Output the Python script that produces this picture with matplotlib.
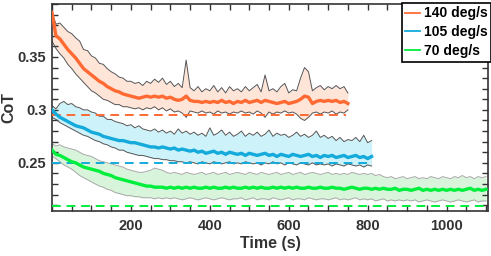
import matplotlib
matplotlib.use("Agg")
import matplotlib.pyplot as plt
import numpy as np
from matplotlib.lines import Line2D
from matplotlib.ticker import MultipleLocator

# ---------------- data ---------------- #
step = 10  # s between samples

labels = ["140 deg/s", "105 deg/s", "70 deg/s"]

cot_140_mean = [0.392, 0.370, 0.367, 0.362, 0.357, 0.353, 0.349, 0.344, 0.339, 0.336,
                0.333, 0.330, 0.327, 0.325, 0.322, 0.320, 0.318, 0.317, 0.315, 0.314,
                0.313, 0.312, 0.311, 0.312, 0.313, 0.312, 0.313, 0.312, 0.313, 0.311,
                0.312, 0.310, 0.309, 0.310, 0.313, 0.309, 0.308, 0.308, 0.307, 0.308,
                0.307, 0.308, 0.307, 0.309, 0.307, 0.308, 0.306, 0.308, 0.307, 0.309,
                0.307, 0.308, 0.309, 0.307, 0.309, 0.308, 0.307, 0.306, 0.307, 0.308,
                0.306, 0.307, 0.308, 0.310, 0.313, 0.312, 0.306, 0.308, 0.309, 0.308,
                0.309, 0.308, 0.309, 0.307, 0.308, 0.306]
cot_140_upper = [0.392, 0.381, 0.382, 0.378, 0.374, 0.372, 0.368, 0.365, 0.357, 0.356,
                 0.351, 0.349, 0.344, 0.343, 0.339, 0.336, 0.334, 0.331, 0.330, 0.327,
                 0.327, 0.325, 0.326, 0.323, 0.327, 0.325, 0.329, 0.326, 0.330, 0.324,
                 0.327, 0.322, 0.325, 0.321, 0.347, 0.321, 0.318, 0.322, 0.317, 0.320,
                 0.318, 0.323, 0.317, 0.321, 0.316, 0.322, 0.318, 0.320, 0.317, 0.322,
                 0.318, 0.321, 0.324, 0.317, 0.333, 0.318, 0.320, 0.317, 0.322, 0.325,
                 0.316, 0.319, 0.318, 0.330, 0.340, 0.336, 0.318, 0.321, 0.323, 0.319,
                 0.322, 0.320, 0.323, 0.320, 0.322, 0.316]
cot_140_lower = [0.365, 0.358, 0.353, 0.349, 0.343, 0.339, 0.334, 0.330, 0.326, 0.322,
                 0.318, 0.316, 0.313, 0.310, 0.309, 0.307, 0.305, 0.305, 0.303, 0.303,
                 0.302, 0.301, 0.302, 0.300, 0.302, 0.301, 0.303, 0.300, 0.302, 0.299,
                 0.301, 0.298, 0.299, 0.297, 0.293, 0.299, 0.298, 0.297, 0.299, 0.297,
                 0.298, 0.296, 0.299, 0.297, 0.298, 0.296, 0.298, 0.297, 0.299, 0.297,
                 0.298, 0.296, 0.299, 0.297, 0.293, 0.298, 0.296, 0.298, 0.297, 0.299,
                 0.297, 0.298, 0.296, 0.292, 0.290, 0.293, 0.297, 0.298, 0.296, 0.298,
                 0.297, 0.299, 0.296, 0.298, 0.297, 0.300]

cot_105_mean = [0.300, 0.296, 0.293, 0.291, 0.289, 0.287, 0.285, 0.284, 0.283, 0.281,
                0.279, 0.278, 0.277, 0.275, 0.274, 0.273, 0.272, 0.271, 0.271, 0.270,
                0.269, 0.269, 0.268, 0.267, 0.266, 0.265, 0.265, 0.264, 0.265, 0.264,
                0.263, 0.264, 0.262, 0.263, 0.262, 0.261, 0.262, 0.260, 0.261, 0.259,
                0.260, 0.261, 0.259, 0.260, 0.258, 0.260, 0.259, 0.258, 0.259, 0.257,
                0.259, 0.258, 0.257, 0.258, 0.259, 0.257, 0.258, 0.256, 0.258, 0.257,
                0.256, 0.258, 0.257, 0.256, 0.257, 0.258, 0.256, 0.257, 0.255, 0.257,
                0.256, 0.257, 0.255, 0.256, 0.257, 0.255, 0.256, 0.257, 0.255, 0.256,
                0.254, 0.256]
cot_105_upper = [0.304, 0.301, 0.306, 0.308, 0.305, 0.306, 0.303, 0.302, 0.300, 0.300,
                 0.298, 0.297, 0.294, 0.294, 0.291, 0.291, 0.289, 0.288, 0.287, 0.285,
                 0.286, 0.283, 0.285, 0.282, 0.281, 0.280, 0.282, 0.279, 0.281, 0.278,
                 0.280, 0.277, 0.282, 0.278, 0.280, 0.277, 0.279, 0.276, 0.278, 0.275,
                 0.283, 0.276, 0.278, 0.281, 0.276, 0.279, 0.275, 0.277, 0.280, 0.275,
                 0.278, 0.276, 0.279, 0.275, 0.277, 0.281, 0.275, 0.278, 0.276, 0.277,
                 0.274, 0.276, 0.279, 0.275, 0.277, 0.274, 0.276, 0.280, 0.274, 0.276,
                 0.273, 0.275, 0.271, 0.274, 0.270, 0.272, 0.271, 0.274, 0.270, 0.276,
                 0.269, 0.271]
cot_105_lower = [0.293, 0.291, 0.288, 0.286, 0.284, 0.282, 0.280, 0.278, 0.276, 0.275,
                 0.273, 0.271, 0.270, 0.268, 0.267, 0.265, 0.264, 0.262, 0.262, 0.260,
                 0.259, 0.258, 0.257, 0.257, 0.256, 0.255, 0.254, 0.254, 0.253, 0.253,
                 0.252, 0.252, 0.251, 0.251, 0.250, 0.251, 0.250, 0.249, 0.251, 0.250,
                 0.249, 0.251, 0.250, 0.249, 0.250, 0.251, 0.249, 0.250, 0.249, 0.251,
                 0.250, 0.249, 0.250, 0.248, 0.250, 0.249, 0.251, 0.249, 0.250, 0.248,
                 0.250, 0.249, 0.248, 0.250, 0.249, 0.248, 0.250, 0.248, 0.249, 0.248,
                 0.249, 0.247, 0.249, 0.248, 0.247, 0.249, 0.248, 0.247, 0.248, 0.246,
                 0.248, 0.247]

cot_70_mean = [0.262, 0.258, 0.257, 0.255, 0.253, 0.251, 0.250, 0.248, 0.246, 0.245,
               0.244, 0.243, 0.242, 0.240, 0.239, 0.238, 0.236, 0.235, 0.234, 0.233,
               0.232, 0.231, 0.230, 0.229, 0.228, 0.228, 0.227, 0.227, 0.227, 0.226,
               0.227, 0.226, 0.227, 0.226, 0.227, 0.226, 0.227, 0.226, 0.226, 0.227,
               0.226, 0.227, 0.226, 0.226, 0.227, 0.226, 0.227, 0.226, 0.226, 0.227,
               0.226, 0.227, 0.226, 0.227, 0.226, 0.226, 0.227, 0.226, 0.227, 0.226,
               0.227, 0.226, 0.227, 0.226, 0.226, 0.227, 0.226, 0.226, 0.227, 0.226,
               0.226, 0.227, 0.226, 0.226, 0.225, 0.226, 0.227, 0.226, 0.225, 0.226,
               0.226, 0.225, 0.226, 0.225, 0.226, 0.225, 0.225, 0.226, 0.224, 0.225,
               0.225, 0.224, 0.225, 0.226, 0.224, 0.225, 0.224, 0.225, 0.224, 0.225,
               0.224, 0.225, 0.224, 0.225, 0.224, 0.225, 0.226, 0.224, 0.225, 0.224,
               0.225]
cot_70_upper = [0.268, 0.266, 0.267, 0.265, 0.264, 0.263, 0.262, 0.260, 0.258, 0.257,
                0.256, 0.254, 0.252, 0.251, 0.250, 0.249, 0.248, 0.247, 0.246, 0.244,
                0.243, 0.242, 0.241, 0.241, 0.242, 0.243, 0.245, 0.244, 0.243, 0.241,
                0.240, 0.241, 0.240, 0.239, 0.241, 0.240, 0.239, 0.240, 0.241, 0.239,
                0.240, 0.241, 0.239, 0.240, 0.241, 0.239, 0.240, 0.241, 0.240, 0.239,
                0.241, 0.240, 0.239, 0.241, 0.240, 0.239, 0.240, 0.241, 0.239, 0.240,
                0.241, 0.239, 0.240, 0.241, 0.239, 0.240, 0.241, 0.240, 0.239, 0.240,
                0.241, 0.239, 0.240, 0.239, 0.240, 0.239, 0.241, 0.240, 0.239, 0.240,
                0.239, 0.240, 0.238, 0.239, 0.237, 0.236, 0.237, 0.235, 0.236, 0.237,
                0.235, 0.236, 0.237, 0.235, 0.236, 0.235, 0.237, 0.236, 0.235, 0.237,
                0.236, 0.235, 0.237, 0.236, 0.238, 0.236, 0.237, 0.235, 0.237, 0.236,
                0.237]
cot_70_lower = [0.256, 0.254, 0.251, 0.248, 0.246, 0.244, 0.241, 0.238, 0.236, 0.234,
                0.232, 0.230, 0.228, 0.227, 0.225, 0.224, 0.222, 0.221, 0.220, 0.219,
                0.219, 0.218, 0.218, 0.217, 0.217, 0.217, 0.216, 0.217, 0.216, 0.217,
                0.216, 0.217, 0.216, 0.215, 0.216, 0.217, 0.216, 0.215, 0.216, 0.217,
                0.216, 0.215, 0.216, 0.217, 0.216, 0.215, 0.216, 0.216, 0.217, 0.215,
                0.216, 0.217, 0.215, 0.216, 0.216, 0.215, 0.217, 0.216, 0.215, 0.216,
                0.217, 0.215, 0.216, 0.216, 0.215, 0.217, 0.216, 0.215, 0.216, 0.216,
                0.215, 0.216, 0.217, 0.215, 0.216, 0.215, 0.216, 0.217, 0.215, 0.216,
                0.215, 0.216, 0.214, 0.215, 0.216, 0.214, 0.215, 0.214, 0.215, 0.214,
                0.215, 0.214, 0.215, 0.213, 0.214, 0.215, 0.214, 0.213, 0.214, 0.215,
                0.214, 0.213, 0.214, 0.215, 0.214, 0.213, 0.214, 0.215, 0.213, 0.214,
                0.214]

# dashed reference levels and how far they run (s)
baselines = [0.2953, 0.2500, 0.2092]
baseline_ends = [745, 808, 1105]

# ---------------- styles ---------------- #
line_colors = ["#FF6A33", "#14AADB", "#00EE3C"]
fill_colors = ["#FFE4D8", "#CDF2FA", "#D8F5DB"]
edge_colors = ["#555555", "#555555", "#A8A8A8"]
text_color = "#333333"

plt.rcParams["font.family"] = ["Liberation Sans", "DejaVu Sans"]
plt.rcParams["font.weight"] = "bold"

fig = plt.figure(figsize=(4.91, 2.56), dpi=100)
ax = fig.add_axes([52 / 491, 1 - 211 / 256, 436 / 491, 207 / 256])

means = [cot_140_mean, cot_105_mean, cot_70_mean]
uppers = [cot_140_upper, cot_105_upper, cot_70_upper]
lowers = [cot_140_lower, cot_105_lower, cot_70_lower]

for i in range(3):
    m = np.array(means[i])
    t = np.arange(len(m)) * step
    up = np.array(uppers[i])
    lo = np.array(lowers[i])
    ax.fill_between(t, lo, up, color=fill_colors[i], lw=0, zorder=1)
    ax.plot(t, up, color=edge_colors[i], lw=0.7, zorder=2)
    ax.plot(t, lo, color=edge_colors[i], lw=0.7, zorder=2)
    ax.plot([0, baseline_ends[i]], [baselines[i], baselines[i]], ls=(0, (4.5, 3)),
            color=line_colors[i], lw=1.4, zorder=3)
    ax.plot(t, m, color=line_colors[i], lw=2.4, zorder=4)

ax.set_xlim(0, 1105)
ax.set_ylim(0.2045, 0.4)
ax.set_xticks([200, 400, 600, 800, 1000])
ax.set_yticks([0.25, 0.3, 0.35])
ax.set_yticklabels(["0.25", "0.3", "0.35"])
ax.xaxis.set_minor_locator(MultipleLocator(50))
ax.yaxis.set_minor_locator(MultipleLocator(0.01))
ax.tick_params(which="both", direction="in", top=True, right=True,
               length=4, width=1, color=text_color, labelsize=10.5,
               labelcolor=text_color)
ax.tick_params(axis="x", pad=6)
ax.tick_params(axis="y", pad=4)
for lab in ax.get_xticklabels() + ax.get_yticklabels():
    lab.set_fontweight("bold")
for sp in ax.spines.values():
    sp.set_linewidth(1.2)
    sp.set_color(text_color)

ax.set_xlabel("Time (s)", fontsize=11.5, fontweight="bold", color=text_color, labelpad=2)
ax.set_ylabel("CoT", fontsize=11.5, fontweight="bold", color=text_color)
ax.yaxis.set_label_coords(-0.082, 0.5)

# thin legend keys, like the reference
keys = [Line2D([], [], color=c, lw=1.3) for c in line_colors]
leg = ax.legend(keys, labels, loc="upper right", bbox_to_anchor=(1.007, 1.005),
                fontsize=10, handlelength=1.1, handletextpad=0.25,
                labelspacing=0.35, borderpad=0.25, borderaxespad=0,
                fancybox=False, framealpha=1)
leg.get_frame().set_edgecolor("black")
leg.get_frame().set_linewidth(1.2)
for txt in leg.get_texts():
    txt.set_fontweight("bold")

fig.savefig("out.png", dpi=100)
